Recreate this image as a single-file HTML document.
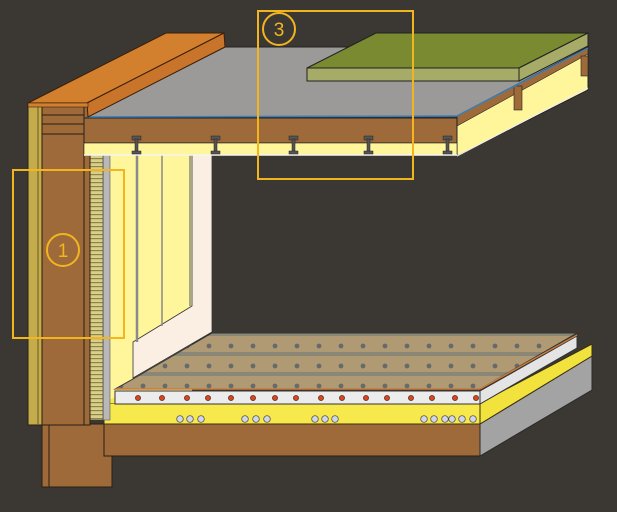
<!DOCTYPE html>
<html><head><meta charset="utf-8"><style>
html,body{margin:0;padding:0;background:#3b3834;}
svg{display:block}
</style></head><body>
<svg width="617" height="512" viewBox="0 0 617 512" xmlns="http://www.w3.org/2000/svg" font-family="Liberation Sans, sans-serif">
<defs>
<pattern id="tile" width="22" height="20" patternUnits="userSpaceOnUse">
<rect width="22" height="20" fill="#b09a74"/>
<rect y="12" width="22" height="4" fill="#8a8776"/>
<circle cx="11" cy="6" r="2.4" fill="#666a6a"/>
</pattern>
<pattern id="stripe" width="13" height="4" patternUnits="userSpaceOnUse">
<rect width="13" height="4" fill="#d9cf86"/>
<rect y="2" width="13" height="1.2" fill="#8c8550"/>
</pattern>
</defs>
<rect width="617" height="512" fill="#3b3834"/>

<!-- interior wall -->
<rect x="110" y="155" width="82" height="250" fill="#fff59a"/>
<polygon points="192,155 212,155 212,332 133,378 133,342 192,306" fill="#fbeee2" stroke="#333" stroke-width="0.8"/>
<line x1="137" y1="155" x2="137" y2="342" stroke="#8a8a8a" stroke-width="2.5"/>
<line x1="162" y1="155" x2="162" y2="326" stroke="#8a8a8a" stroke-width="1.5"/>
<line x1="190" y1="155" x2="190" y2="306" stroke="#8a8a8a" stroke-width="1.5"/>

<!-- foundation -->
<rect x="42" y="424" width="70" height="63" fill="#9e6a3a" stroke="#2a1f14"/>
<line x1="49" y1="424" x2="49" y2="487" stroke="#2a1f14"/>
<!-- floor slab brown -->
<rect x="104" y="424" width="376" height="32" fill="#9e6a3a" stroke="#2a1f14"/>
<!-- gray side -->
<polygon points="480,424 592,356 592,390 480,456" fill="#a3a3a3" stroke="#2a2a2a"/>
<!-- yellow insulation -->
<polygon points="104,403 480,403 480,424 104,424" fill="#f7e94c" stroke="#3a3010"/>
<polygon points="480,403 592,344 592,356 480,424" fill="#f2e23e" stroke="#3a3010"/>
<polygon points="104,403 120,394 490,394 480,403" fill="#f7e94c"/>
<!-- white screed -->
<polygon points="115,391 480,391 480,404 115,404" fill="#ececec" stroke="#333"/>
<polygon points="480,391 577,336 577,348 480,404" fill="#e4e4e4" stroke="#333"/>
<!-- tile top -->
<polygon points="115,389 133,379 212,333 577,333 480,389" fill="url(#tile)" stroke="#333"/>
<line x1="115" y1="389" x2="480" y2="389" stroke="#c87a3a" stroke-width="1.5"/>
<line x1="480" y1="389" x2="577" y2="335" stroke="#c87a3a" stroke-width="1.5"/>
<!-- red dots -->
<g fill="#d9451c" stroke="#3a1a10" stroke-width="0.6">
<circle cx="138" cy="398" r="2.6"/><circle cx="162" cy="398" r="2.6"/><circle cx="187" cy="398" r="2.6"/><circle cx="208" cy="398" r="2.6"/><circle cx="231" cy="398" r="2.6"/><circle cx="253" cy="398" r="2.6"/><circle cx="275" cy="398" r="2.6"/><circle cx="296" cy="398" r="2.6"/><circle cx="321" cy="398" r="2.6"/><circle cx="342" cy="398" r="2.6"/><circle cx="366" cy="398" r="2.6"/><circle cx="387" cy="398" r="2.6"/><circle cx="411" cy="398" r="2.6"/><circle cx="432" cy="398" r="2.6"/><circle cx="455" cy="398" r="2.6"/><circle cx="476" cy="398" r="2.6"/>
</g>
<!-- pipes -->
<g fill="#cfd6e8" stroke="#444" stroke-width="0.7">
<circle cx="180" cy="419" r="3.3"/><circle cx="190" cy="419" r="3.3"/><circle cx="201" cy="419" r="3.3"/>
<circle cx="245" cy="419" r="3.3"/><circle cx="256" cy="419" r="3.3"/><circle cx="267" cy="419" r="3.3"/>
<circle cx="315" cy="419" r="3.3"/><circle cx="325" cy="419" r="3.3"/><circle cx="335" cy="419" r="3.3"/>
<circle cx="424" cy="419" r="3.3"/><circle cx="434" cy="419" r="3.3"/><circle cx="445" cy="419" r="3.3"/><circle cx="452" cy="419" r="3.3"/><circle cx="462" cy="419" r="3.3"/><circle cx="473" cy="419" r="3.3"/>
</g>

<rect x="103" y="155" width="7" height="265" fill="#b8b8b8" stroke="#555" stroke-width="0.6"/>
<rect x="90" y="155" width="13" height="265" fill="url(#stripe)" stroke="#333" stroke-width="0.6"/>

<!-- wall column -->
<rect x="28" y="103" width="14" height="322" fill="#c4ab4c" stroke="#2a1f14"/>
<rect x="42" y="103" width="48" height="322" fill="#9e6a3a" stroke="#2a1f14"/>
<line x1="42" y1="115" x2="84" y2="115" stroke="#2a1f14"/>
<line x1="42" y1="124" x2="84" y2="124" stroke="#2a1f14"/>
<line x1="42" y1="134" x2="84" y2="134" stroke="#2a1f14"/>
<line x1="84" y1="103" x2="84" y2="425" stroke="#2a1f14"/>
<line x1="38" y1="105" x2="38" y2="425" stroke="#6a5a20"/>

<!-- roof layers right face -->
<polygon points="457,116 588,46 588,90 457,156" fill="#fff59a" stroke="#222"/>
<polygon points="457,116 588,46 588,54 457,126" fill="#9e6a3a" stroke="#222" stroke-width="0.6"/>
<rect x="514" y="86" width="8" height="24" fill="#9e6a3a" stroke="#222" stroke-width="0.6"/>
<rect x="581" y="56" width="7" height="20" fill="#9e6a3a" stroke="#222" stroke-width="0.6"/>
<line x1="457" y1="156" x2="588" y2="88" stroke="#eee" stroke-width="1.2"/>
<!-- joist band -->
<rect x="84" y="118" width="373" height="25" fill="#9e6a3a" stroke="#222"/>
<rect x="84" y="143" width="373" height="12" fill="#fff59a" stroke="#222" stroke-width="0.6"/>
<line x1="84" y1="155" x2="457" y2="155" stroke="#f5f5f5" stroke-width="1.5"/>
<!-- hangers -->
<g fill="#555" stroke="#222" stroke-width="0.5">
<rect x="132" y="136" width="9" height="4"/><rect x="135" y="139" width="3" height="14"/><rect x="132" y="151" width="9" height="3"/>
<rect x="211" y="136" width="9" height="4"/><rect x="214" y="139" width="3" height="14"/><rect x="211" y="151" width="9" height="3"/>
<rect x="289" y="136" width="9" height="4"/><rect x="292" y="139" width="3" height="14"/><rect x="289" y="151" width="9" height="3"/>
<rect x="364" y="136" width="9" height="4"/><rect x="367" y="139" width="3" height="14"/><rect x="364" y="151" width="9" height="3"/>
<rect x="443" y="136" width="9" height="4"/><rect x="446" y="139" width="3" height="14"/><rect x="443" y="151" width="9" height="3"/>
</g>
<!-- gray roof top -->
<polygon points="87,117 225,47 588,47 457,116" fill="#9c9a98" stroke="#222"/>
<line x1="87" y1="117" x2="457" y2="116" stroke="#3d7fb5" stroke-width="1.5"/>
<line x1="457" y1="116" x2="588" y2="48" stroke="#3d7fb5" stroke-width="1.5"/>
<!-- green slab -->
<polygon points="307,68 376,33 588,33 519,68" fill="#7a8a30" stroke="#222"/>
<rect x="307" y="68" width="212" height="13" fill="#a6ac68" stroke="#222"/>
<polygon points="519,68 588,33 588,46 519,81" fill="#a6ac68" stroke="#222"/>
<!-- parapet cap -->
<polygon points="28,103 166,33 224,33 87,103" fill="#d27f2e" stroke="#3a1f0a"/>
<polygon points="87,103 224,33 225,47 88,117" fill="#c8742a" stroke="#3a1f0a"/>
<rect x="28" y="103" width="60" height="4" fill="#d27f2e" stroke="#3a1f0a" stroke-width="0.6"/>

<!-- callouts -->
<g fill="none" stroke="#f2b51e" stroke-width="2">
<rect x="13" y="170" width="111" height="168"/>
<circle cx="63" cy="250" r="16"/>
<rect x="258" y="11" width="155" height="168"/>
<circle cx="279" cy="29" r="16"/>
</g>
<text x="63" y="257" font-size="19" fill="#f2b51e" text-anchor="middle">1</text>
<text x="279" y="36" font-size="19" fill="#f2b51e" text-anchor="middle">3</text>
</svg>
</body></html>
